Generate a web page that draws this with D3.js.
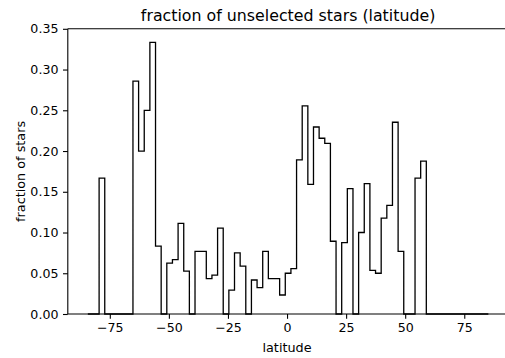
<!DOCTYPE html>
<html>
<head>
<meta charset="utf-8">
<script src="https://cdn.jsdelivr.net/npm/d3@7"></script>
<style>
  body { margin: 0; background: #fff; }
  svg text { font-family: "DejaVu Sans", sans-serif; fill: #000; }
</style>
</head>
<body>
<div id="chart-area"></div>
<script>

// histogram range (latitude, degrees) and bin count
let binLo = -84.3,
	binHi = 85.2,
	binCount = 71;

// fraction of unselected stars per bin
let fractions = [
	0, 0, 0.1667, 0, 0, 0, 0, 0, 0.2857, 0.2,
	0.25, 0.3333, 0.0833, 0, 0.0625, 0.0667, 0.1111, 0.0526, 0, 0.0769,
	0.0769, 0.0435, 0.0476, 0.1053, 0, 0.0294, 0.075, 0.0588, 0, 0.0417,
	0.0323, 0.0769, 0.0435, 0.0435, 0.0233, 0.05, 0.0556, 0.1892, 0.2553, 0.1591,
	0.2295, 0.2157, 0.2093, 0.0893, 0, 0.0877, 0.1538, 0, 0.1, 0.16,
	0.0536, 0.05, 0.1176, 0.1333, 0.2353, 0.0769, 0, 0, 0.1667, 0.1875,
	0, 0, 0, 0, 0, 0, 0, 0, 0, 0, 0
];

let xTicks = [-75, -50, -25, 0, 25, 50, 75];
let yTicks = [0, 0.05, 0.1, 0.15, 0.2, 0.25, 0.3, 0.35];

let titleText = "fraction of unselected stars (latitude)",
	xLabel = "latitude",
	yLabel = "fraction of stars";

drawChart();

function drawChart(){

	let width = 505,
		height = 358;

	let margin = {top: 28.8, right: -3.4, bottom: 44, left: 67.8};

	let svg = d3.select("#chart-area").append("svg")
		.attr("width", width)
		.attr("height", height);

	// bins
	let binWidth = (binHi - binLo) / binCount;
	let bins = fractions.map((v, i) => ({x0: binLo + i * binWidth, x1: binLo + (i + 1) * binWidth, v: v}));

	let pad = 0.05 * (binHi - binLo);

	let x = d3.scaleLinear()
		.domain([binLo - pad, binHi + pad])
		.range([margin.left, width - margin.right]);

	let y = d3.scaleLinear()
		.domain([0, 0.35])
		.range([height - margin.bottom, margin.top]);

	// step outline
	let pts = [[binLo, 0]];
	bins.forEach(b => { pts.push([b.x0, b.v]); pts.push([b.x1, b.v]); });
	pts.push([binHi, 0]);

	let line = d3.line()
		.x(d => x(d[0]))
		.y(d => y(d[1]));

	svg.append("path")
		.attr("d", line(pts))
		.attr("fill", "none")
		.attr("stroke", "#000")
		.attr("stroke-width", 1.3)
		.attr("stroke-linejoin", "miter");

	// axes
	let fmtX = d => d < 0 ? "\u2212" + Math.abs(d) : "" + d;

	let xAxis = svg.append("g")
		.attr("transform", "translate(0," + y(0) + ")")
		.call(d3.axisBottom(x).tickValues(xTicks).tickFormat(fmtX).tickSize(4.8).tickPadding(4.2));

	let yAxis = svg.append("g")
		.attr("transform", "translate(" + x.range()[0] + ",0)")
		.call(d3.axisLeft(y).tickValues(yTicks).tickFormat(d3.format(".2f")).tickSize(4.8).tickPadding(4.6));

	[xAxis, yAxis].forEach(g => {
		g.select(".domain").remove();
		g.selectAll("line").attr("stroke", "#000").attr("stroke-width", 1.1);
		g.selectAll("text").attr("font-size", 12.6).attr("fill", "#000");
	});

	// spines (left, bottom, top)
	let spine = (x1, y1, x2, y2) => svg.append("line")
		.attr("x1", x1).attr("y1", y1).attr("x2", x2).attr("y2", y2)
		.attr("stroke", "#000").attr("stroke-width", 1.1);

	spine(x.range()[0], y(0), x.range()[1], y(0));
	spine(x.range()[0], y(0), x.range()[0], y(0.35));
	spine(x.range()[0], y(0.35), x.range()[1], y(0.35));

	// labels
	svg.append("text")
		.attr("x", (x.range()[0] + x.range()[1]) / 2)
		.attr("y", 21)
		.attr("text-anchor", "middle")
		.attr("font-size", 15.8)
		.text(titleText);

	svg.append("text")
		.attr("x", x(0))
		.attr("y", 351.5)
		.attr("text-anchor", "middle")
		.attr("font-size", 12.8)
		.text(xLabel);

	svg.append("text")
		.attr("transform", "translate(24.5," + (y(0) + y(0.35)) / 2 + ") rotate(-90)")
		.attr("text-anchor", "middle")
		.attr("font-size", 12.8)
		.text(yLabel);
}

</script>
</body>
</html>
